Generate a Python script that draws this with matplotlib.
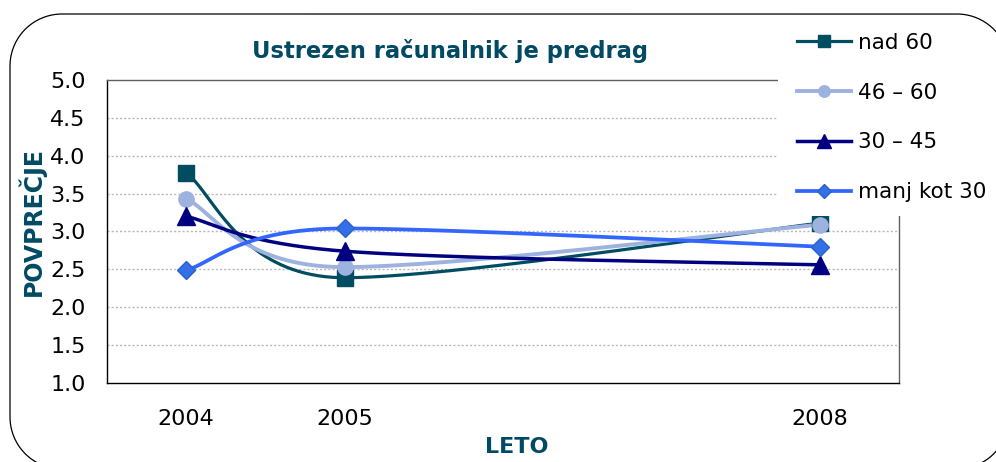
import numpy as np
import matplotlib
matplotlib.use("Agg")
import matplotlib.pyplot as plt
from matplotlib.patches import Rectangle, PathPatch
from matplotlib.path import Path
from matplotlib.lines import Line2D

# ---- data ----
years = [2004, 2005, 2008]
series_names = ["nad 60", "46 – 60", "30 – 45", "manj kot 30"]
nad_60 = [3.77, 2.39, 3.11]
s_46_60 = [3.43, 2.53, 3.09]
s_30_45 = [3.20, 2.74, 2.56]
manj_30 = [2.49, 3.04, 2.80]
yticks = [1.0, 1.5, 2.0, 2.5, 3.0, 3.5, 4.0, 4.5, 5.0]
title = "Ustrezen računalnik je predrag"
ylabel = "POVPREČJE"
xlabel = "LETO"

colors = ["#004C60", "#9DB2DE", "#000080", "#3366FF"]
markers = ["s", "o", "^", "D"]
msizes = [11, 11, 13.5, 9]
lwidths = [2.3, 2.8, 2.5, 2.7]
mface = ["#004C60", "#9DB2DE", "#000080", "#3370E8"]
medge = ["#004C60", "#9DB2DE", "#000080", "#2A60C8"]


def smooth(xs, ys, n=80):
    """Bezier smoothing through the points (Excel-like control points,
    flat tangent at local extrema)."""
    P = np.column_stack([xs, ys]).astype(float)
    m = len(P)
    tang = np.zeros_like(P)
    for i in range(m):
        a = P[i - 1] if i > 0 else P[i]
        b = P[i + 1] if i < m - 1 else P[i]
        tg = (b - a) / 6.0
        if 0 < i < m - 1 and (P[i, 1] - a[1]) * (b[1] - P[i, 1]) <= 0:
            tg[1] = 0.0
        tang[i] = tg
    X, Y = [], []
    t = np.linspace(0, 1, n)[:, None]
    for i in range(m - 1):
        p1, p2 = P[i], P[i + 1]
        c1 = p1 + tang[i]
        c2 = p2 - tang[i + 1]
        seg = ((1 - t) ** 3) * p1 + 3 * ((1 - t) ** 2) * t * c1 + 3 * (1 - t) * t ** 2 * c2 + t ** 3 * p2
        if i > 0:
            seg = seg[1:]
        X.append(seg[:, 0])
        Y.append(seg[:, 1])
    return np.concatenate(X), np.concatenate(Y)


W, H = 996, 462
fig = plt.figure(figsize=(W / 100, H / 100), dpi=100)
fig.patch.set_facecolor("white")

# outer rounded frame (pixel geometry -> figure fraction)
fl, ft, fr, fb, rad = 10, 14, 1009, 469, 52


def arc(cx, cy, a0, a1):
    a = np.radians(np.linspace(a0, a1, 40))
    return np.column_stack([cx + rad * np.cos(a), cy + rad * np.sin(a)])


pts = np.vstack([
    arc(fl + rad, ft + rad, 180, 270),
    arc(fr - rad, ft + rad, 270, 360),
    arc(fr - rad, fb - rad, 0, 90),
    arc(fl + rad, fb - rad, 90, 180),
    [[fl, ft + rad]],
])
pts_fig = np.column_stack([pts[:, 0] / W, 1 - pts[:, 1] / H])
frame = PathPatch(Path(pts_fig), transform=fig.transFigure, facecolor="none",
                  edgecolor="black", linewidth=0.9, zorder=0.5)
fig.patches.append(frame)

L, R, T, B = 107, 899, 80, 383
ax = fig.add_axes([L / W, 1 - B / H, (R - L) / W, (B - T) / H])
ax.set_xlim(2003.5, 2008.5)
ax.set_ylim(1.0, 5.0)

all_series = [nad_60, s_46_60, s_30_45, manj_30]
handles = []
for k, vals in enumerate(all_series):
    sx, sy = smooth(years, vals)
    ax.plot(sx, sy, color=colors[k], lw=lwidths[k], solid_capstyle="round", zorder=3 + k)
    ax.plot(years, vals, linestyle="none", marker=markers[k], ms=msizes[k],
            markerfacecolor=mface[k], markeredgecolor=medge[k], markeredgewidth=1,
            zorder=10 + k)
    handles.append(Line2D([], [], color=colors[k], lw=lwidths[k], marker=markers[k],
                          ms=msizes[k] * 0.75, markerfacecolor=mface[k],
                          markeredgecolor=medge[k]))

ax.set_yticks(yticks)
ax.set_yticklabels([f"{v:.1f}" for v in yticks])
ax.set_xticks(years)
ax.set_xticklabels([str(y) for y in years])
ax.tick_params(axis="both", length=0, labelsize=16, colors="black")
ax.tick_params(axis="y", pad=15.5)
ax.tick_params(axis="x", pad=18.5)
for v in yticks[1:-1]:
    ax.axhline(v, color="#B8B8B8", lw=1.0, linestyle=(0, (1.5, 1.5)), zorder=1)

ax.spines["left"].set_color("black")
ax.spines["bottom"].set_color("black")
ax.spines["top"].set_color("#606060")
ax.spines["right"].set_color("#606060")
for s in ax.spines.values():
    s.set_linewidth(1.0)

# axis labels and title
fig.text(32 / W, 1 - 222 / H, ylabel, rotation=90, ha="center", va="center",
         fontsize=17, fontweight="bold", color="#004A63")
fig.text(517 / W, 1 - 447 / H, xlabel, ha="center", va="center",
         fontsize=16, fontweight="bold", color="#004A63")
fig.text(450 / W, 1 - 51 / H, title, ha="center", va="center",
         fontsize=16.3, fontweight="bold", color="#004A63")

# white area behind legend covering plot corner
cover = Rectangle((778 / W, 1 - 216 / H), (905 - 778) / W, (216 - 76) / H,
                  transform=fig.transFigure, facecolor="white", edgecolor="none",
                  zorder=1)
fig.patches.append(cover)

leg = fig.legend(handles, series_names, loc="upper left",
                 bbox_to_anchor=(797 / W, 1 - 33 / H), bbox_transform=fig.transFigure,
                 frameon=False, fontsize=15.5, handlelength=2.5, handletextpad=0.35,
                 labelspacing=1.38, borderpad=0, borderaxespad=0)
leg.set_zorder(5)

fig.savefig("out.png", dpi=100)
